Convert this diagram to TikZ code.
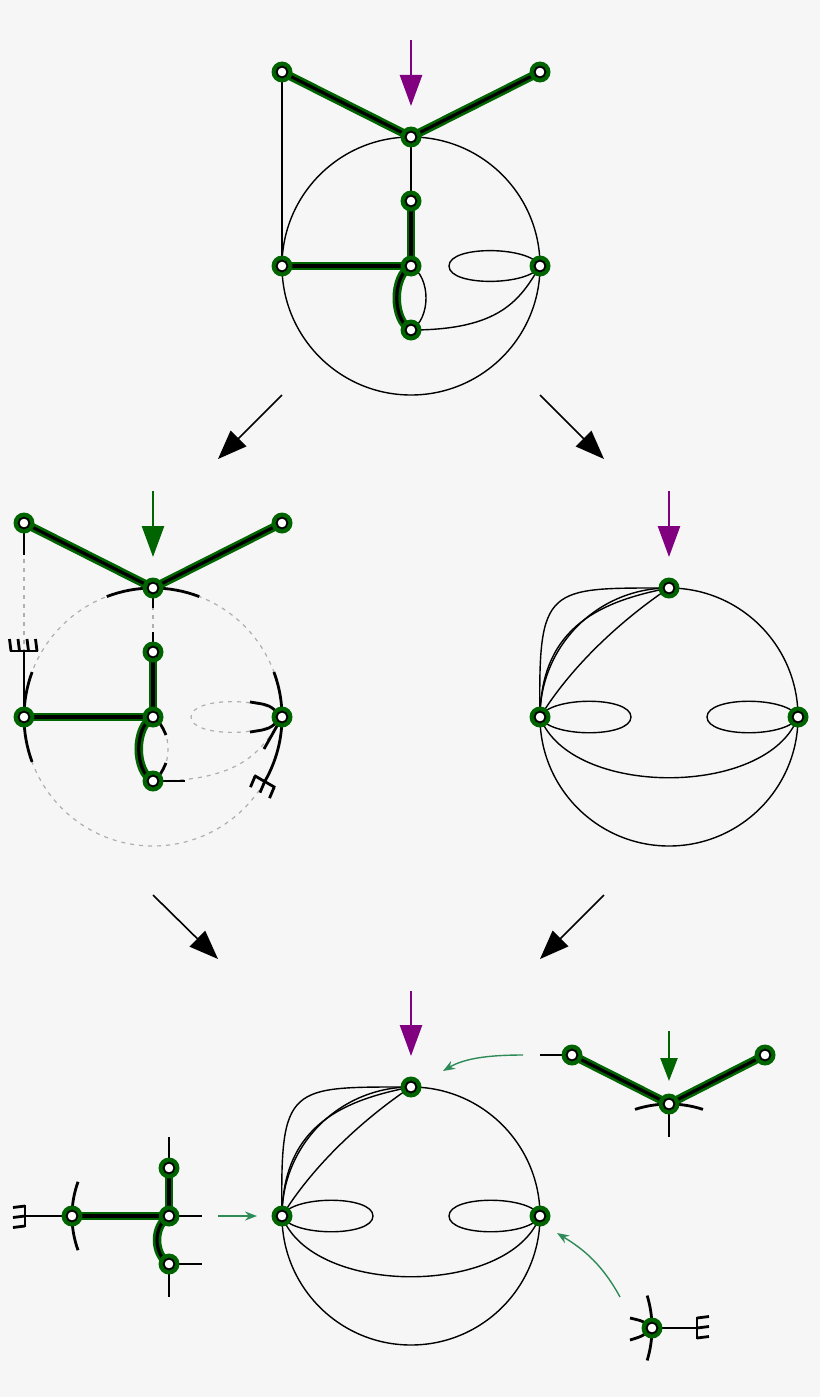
\documentclass[tikz,border=0pt]{standalone}
\usetikzlibrary{arrows.meta}
\definecolor{gdark}{RGB}{0,100,0}
\definecolor{purp}{RGB}{128,0,128}
\definecolor{sea}{RGB}{46,139,87}
\definecolor{bgc}{RGB}{246,246,246}
\definecolor{dgray}{RGB}{175,175,175}
\pgfdeclarelayer{bgl}\pgfdeclarelayer{halol}\pgfdeclarelayer{edgel}
\pgfsetlayers{bgl,halol,edgel,main}
\tikzset{
 vtx/.style={circle, inner sep=0pt, minimum size=21pt, fill=gdark, draw=none,
   path picture={\draw[black, fill=white, line width=1.8pt] (path picture bounding box.center) circle[radius=5.4pt];}},
 halo/.style={draw=gdark, line width=8.5pt},
 core/.style={draw=black, line width=3.2pt},
 plain/.style={draw=black, line width=1.4pt},
 ghost/.style={draw=dgray, line width=1.2pt, dash pattern=on 4pt off 5pt},
 stub/.style={draw=black, line width=2.8pt},
 bigarrow/.style={line width=2.6pt, -{Triangle[length=31pt,width=22pt]}},
 smallarrow/.style={line width=2.4pt, -{Triangle[length=23pt,width=17pt]}},
 flowarrow/.style={line width=1.6pt, draw=black, -{Triangle[length=29pt,width=22pt]}},
 seaarrow/.style={line width=1.4pt, draw=sea, -{Stealth[length=12pt,width=9pt]}},
}
\newcommand\gedge[1]{\begin{pgfonlayer}{halol}\draw[halo] #1;\end{pgfonlayer}\begin{pgfonlayer}{edgel}\draw[core] #1;\end{pgfonlayer}}
\newcommand\rake[5]{\begin{scope}[shift={(#1,#2)},rotate=#3]\draw[stub] (0,-#4)--(0,#4);\foreach \ty in {#5}{\draw[stub] (0,\ty)--(12,\ty+1.5);}\end{scope}}
\begin{document}
\begin{tikzpicture}[x=1pt,y=1pt]
\begin{pgfonlayer}{bgl}
\fill[bgc] (0,0) rectangle (820,-1397);
\end{pgfonlayer}
\useasboundingbox (0,0) rectangle (820,-1397);
% ---------- nodes ----------
% top
\node[vtx] (atl) at (282,-72) {};
\node[vtx] (atr) at (540,-72) {};
\node[vtx] (at) at (411,-137) {};
\node[vtx] (ai) at (411,-201) {};
\node[vtx] (ac) at (411,-266) {};
\node[vtx] (al) at (282,-266) {};
\node[vtx] (ar) at (540,-266) {};
\node[vtx] (ab) at (411,-330) {};
% middle left
\node[vtx] (btl) at (24,-523) {};
\node[vtx] (btr) at (282,-523) {};
\node[vtx] (bt) at (153,-588) {};
\node[vtx] (bi) at (153,-652) {};
\node[vtx] (bc) at (153,-717) {};
\node[vtx] (bl) at (24,-717) {};
\node[vtx] (br) at (282,-717) {};
\node[vtx] (bb) at (153,-781) {};
% middle right
\node[vtx] (ct) at (669,-588) {};
\node[vtx] (cl) at (540,-717) {};
\node[vtx] (cr) at (798,-717) {};
% bottom middle
\node[vtx] (dt) at (411,-1087) {};
\node[vtx] (dl) at (282,-1216) {};
\node[vtx] (dr) at (540,-1216) {};
% bottom left piece
\node[vtx] (ea) at (72,-1216) {};
\node[vtx] (eb) at (169,-1216) {};
\node[vtx] (ec) at (169,-1168) {};
\node[vtx] (ed) at (169,-1264) {};
% bottom right pieces
\node[vtx] (fp) at (572,-1055) {};
\node[vtx] (fq) at (669,-1104) {};
\node[vtx] (fs) at (765,-1055) {};
\node[vtx] (gn) at (652,-1328) {};
% ---------- top diagram ----------
\gedge{(atl.center) -- (at.center) -- (atr.center)}
\gedge{(ai.center) -- (ac.center)}
\gedge{(al.center) -- (ac.center)}
\gedge{(ac.center) .. controls (392,-276) and (392,-320) .. (ab.center)}
\begin{pgfonlayer}{edgel}
\draw[plain] (411,-266) circle[radius=129];
\draw[plain] (atl.center) -- (al.center);
\draw[plain] (at.center) -- (ai.center);
\draw[plain] (ac.center) .. controls (431,-277) and (431,-319) .. (ab.center);
\draw[plain] (ab.center) .. controls (500,-330) and (520,-300) .. (ar.center);
\draw[plain] (ar.center) .. controls (530,-246) and (449,-245) .. (449,-266) .. controls (449,-287) and (530,-286) .. (ar.center);
\end{pgfonlayer}
\coordinate (pa0) at (411,-40); \coordinate (pa1) at (411,-106);
\draw[bigarrow, draw=purp, fill=purp] (pa0) -- (pa1);
% ---------- flow arrows ----------
\coordinate (f1s) at (282,-395); \coordinate (f1e) at (218,-459);
\coordinate (f2s) at (540,-395); \coordinate (f2e) at (604,-459);
\coordinate (f3s) at (153,-895); \coordinate (f3e) at (218,-959);
\coordinate (f4s) at (604,-895); \coordinate (f4e) at (540,-959);
\draw[flowarrow, fill=black] (f1s) -- (f1e);
\draw[flowarrow, fill=black] (f2s) -- (f2e);
\draw[flowarrow, fill=black] (f3s) -- (f3e);
\draw[flowarrow, fill=black] (f4s) -- (f4e);
% ---------- middle left ----------
\gedge{(btl.center) -- (bt.center) -- (btr.center)}
\gedge{(bi.center) -- (bc.center)}
\gedge{(bl.center) -- (bc.center)}
\gedge{(bc.center) .. controls (134,-727) and (134,-771) .. (bb.center)}
\begin{pgfonlayer}{edgel}
\draw[ghost] (153,-717) circle[radius=129];
\draw[ghost] (btl.center) -- (bl.center);
\draw[ghost] (bt.center) -- (bi.center);
\draw[ghost] (bc.center) .. controls (173,-728) and (173,-770) .. (bb.center);
\draw[ghost] (bb.center) .. controls (242,-781) and (262,-751) .. (br.center);
\draw[ghost] (br.center) .. controls (272,-697) and (191,-696) .. (191,-717) .. controls (191,-738) and (272,-737) .. (br.center);
% stubs
\draw[stub] (btl.center) -- (24,-555);
\draw[stub] (bl.center) -- (24,-651);
\rake{24}{-651}{90}{14}{-13,-4.5,4.5,13}
\draw[stub] (153,-717) ++(111:129) arc[start angle=111, end angle=69, radius=129];
\draw[stub] (bt.center) -- (153,-608);
\draw[stub] (bi.center) -- (153,-632);
\draw[stub] (153,-717) ++(159.6:129) arc[start angle=159.6, end angle=200.4, radius=129];
\draw[stub] (bc.center) .. controls (161,-724) .. (166,-735);
\draw[stub] (bb.center) .. controls (161,-774) .. (166,-763);
\draw[stub] (bb.center) -- (185,-781);
\draw[stub] (153,-717) ++(20.4:129) arc[start angle=20.4, end angle=-30, radius=129];
\rake{264.7}{-781.5}{240}{12}{-11,0,11}
\draw[stub] (br.center) .. controls (270,-705) .. (250,-702);
\draw[stub] (br.center) .. controls (270,-729) .. (250,-732);
\draw[stub] (br.center) -- (264,-749);
\end{pgfonlayer}
\coordinate (ga0) at (153,-491); \coordinate (ga1) at (153,-557);
\draw[bigarrow, draw=gdark, fill=gdark] (ga0) -- (ga1);
% ---------- middle right ----------
\begin{pgfonlayer}{edgel}
\draw[plain] (669,-717) circle[radius=129];
\draw[plain] (cl.center) .. controls (550,-696) and (631,-696) .. (631,-717) .. controls (631,-738) and (550,-738) .. (cl.center);
\draw[plain] (cr.center) .. controls (788,-696) and (707,-696) .. (707,-717) .. controls (707,-738) and (788,-738) .. (cr.center);
\draw[plain] (cl.center) .. controls (570,-798) and (768,-798) .. (cr.center);
\draw[plain] (cl.center) .. controls (538,-585) and (547,-588) .. (ct.center);
\draw[plain] (cl.center) .. controls (541,-625) and (603,-601) .. (ct.center);
\draw[plain] (cl.center) .. controls (575,-660) and (630,-614) .. (ct.center);
\end{pgfonlayer}
\coordinate (pb0) at (669,-491); \coordinate (pb1) at (669,-557);
\draw[bigarrow, draw=purp, fill=purp] (pb0) -- (pb1);
% ---------- bottom middle ----------
\begin{pgfonlayer}{edgel}
\draw[plain] (411,-1216) circle[radius=129];
\draw[plain] (dl.center) .. controls (292,-1195) and (373,-1195) .. (373,-1216) .. controls (373,-1237) and (292,-1237) .. (dl.center);
\draw[plain] (dr.center) .. controls (530,-1195) and (449,-1195) .. (449,-1216) .. controls (449,-1237) and (530,-1237) .. (dr.center);
\draw[plain] (dl.center) .. controls (312,-1297) and (510,-1297) .. (dr.center);
\draw[plain] (dl.center) .. controls (280,-1084) and (289,-1087) .. (dt.center);
\draw[plain] (dl.center) .. controls (283,-1124) and (345,-1100) .. (dt.center);
\draw[plain] (dl.center) .. controls (317,-1159) and (372,-1113) .. (dt.center);
\end{pgfonlayer}
\coordinate (pc0) at (411,-991); \coordinate (pc1) at (411,-1056);
\draw[bigarrow, draw=purp, fill=purp] (pc0) -- (pc1);
% ---------- bottom left piece ----------
\gedge{(ea.center) -- (eb.center)}
\gedge{(ec.center) -- (eb.center)}
\gedge{(eb.center) .. controls (153,-1226) and (153,-1254) .. (ed.center)}
\begin{pgfonlayer}{edgel}
\draw[stub] (ea.center) -- (25,-1216);
\rake{25}{-1216}{180}{11}{-10,0,10}
\draw[stub] (172,-1216) ++(160:100) arc[start angle=160, end angle=200, radius=100];
\draw[stub] (ec.center) -- (169,-1137);
\draw[stub] (eb.center) -- (202,-1216);
\draw[stub] (ed.center) -- (202,-1264);
\draw[stub] (ed.center) -- (169,-1297);
\end{pgfonlayer}
\coordinate (s1s) at (218,-1216); \coordinate (s1e) at (257,-1216);
\draw[seaarrow] (s1s) -- (s1e);
% ---------- bottom right piece 1 ----------
\gedge{(fp.center) -- (fq.center) -- (fs.center)}
\begin{pgfonlayer}{edgel}
\draw[stub] (fp.center) -- (540,-1055);
\draw[stub] (fq.center) -- (669,-1137);
\draw[stub] (669,-1214) ++(108:110) arc[start angle=108, end angle=72, radius=110];
\end{pgfonlayer}
\coordinate (ha0) at (669,-1031); \coordinate (ha1) at (669,-1081);
\draw[smallarrow, draw=gdark, fill=gdark] (ha0) -- (ha1);
\coordinate (s2s) at (523,-1055); \coordinate (s2e) at (443,-1071);
\draw[seaarrow] (s2s) .. controls (490,-1055) and (465,-1058) .. (s2e);
% ---------- bottom right piece 2 ----------
\begin{pgfonlayer}{edgel}
\draw[stub] (gn.center) -- (697,-1328);
\rake{697}{-1328}{0}{11}{-10,0,10}
\draw[stub] (541,-1328) ++(-17:111) arc[start angle=-17, end angle=17, radius=111];
\draw[stub] (gn.center) .. controls (643,-1321) .. (630,-1318);
\draw[stub] (gn.center) .. controls (643,-1336) .. (630,-1340);
\end{pgfonlayer}
\coordinate (s3s) at (620,-1297); \coordinate (s3e) at (557,-1233);
\draw[seaarrow] (s3s) .. controls (600,-1260) and (578,-1246) .. (s3e);
\end{tikzpicture}
\end{document}
